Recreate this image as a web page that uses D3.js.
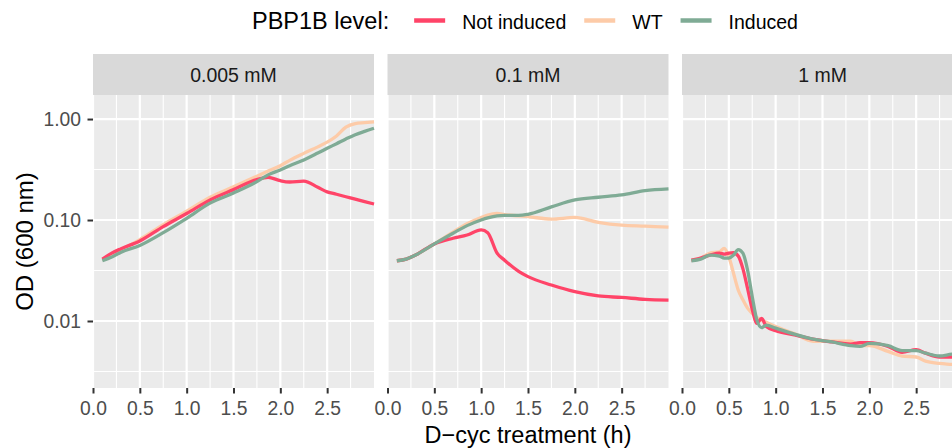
<!DOCTYPE html>
<html>
<head>
<meta charset="utf-8">
<script src="https://cdn.jsdelivr.net/npm/d3@7"></script>
<style>
  body { margin: 0; background: #fff; }
  text { font-family: "Liberation Sans", Arial, sans-serif; }
</style>
</head>
<body>
<script>
var width = 952,
    height = 448;

// facets, groups, colours
var concentrations = ["0.005 mM", "0.1 mM", "1 mM"];
var levels = ["Not induced", "WT", "Induced"];
var levelColors = ["#FF4468", "#FDCBA8", "#7FAB95"];
var drawOrder = [1, 0, 2];

// ticks
var xTicks = [0, 0.5, 1, 1.5, 2, 2.5];
var xMinor = [0.25, 0.75, 1.25, 1.75, 2.25, 2.75];
var yTicks = [1, 0.1, 0.01];
var yMinor = [0.316, 0.0316, 0.00316];

// 0.005 mM
var hours005 = [0.1, 0.2, 0.3, 0.5, 0.75, 1.0, 1.25, 1.5, 1.75, 1.87, 2.0, 2.1, 2.25, 2.4, 2.5, 2.6, 2.7, 2.8, 2.9, 3.0];
var od005NotInduced = [0.041, 0.047, 0.052, 0.062, 0.086, 0.116, 0.158, 0.200, 0.252, 0.265, 0.245, 0.238, 0.243, 0.211, 0.190, 0.180, 0.170, 0.161, 0.152, 0.144];
var od005WT = [0.040, 0.046, 0.051, 0.064, 0.090, 0.122, 0.168, 0.213, 0.272, 0.305, 0.345, 0.390, 0.457, 0.530, 0.590, 0.680, 0.830, 0.900, 0.920, 0.940];
var od005Induced = [0.0395, 0.043, 0.048, 0.056, 0.075, 0.104, 0.147, 0.185, 0.240, 0.280, 0.313, 0.345, 0.393, 0.460, 0.513, 0.570, 0.635, 0.700, 0.755, 0.810];

// 0.1 mM
var hours01 = [0.1, 0.2, 0.3, 0.5, 0.7, 0.85, 1.0, 1.07, 1.17, 1.25, 1.4, 1.5, 1.75, 2.0, 2.25, 2.5, 2.75, 3.0];
var od01NotInduced = [0.0395, 0.041, 0.045, 0.058, 0.066, 0.071, 0.080, 0.075, 0.047, 0.040, 0.031, 0.0275, 0.0227, 0.0195, 0.0177, 0.0171, 0.0164, 0.0161];
var od01WT = [0.0395, 0.041, 0.045, 0.058, 0.076, 0.092, 0.106, 0.112, 0.116, 0.113, 0.110, 0.108, 0.102, 0.106, 0.095, 0.089, 0.087, 0.085];
var od01Induced = [0.0395, 0.041, 0.045, 0.058, 0.074, 0.088, 0.100, 0.105, 0.110, 0.111, 0.111, 0.114, 0.135, 0.158, 0.168, 0.177, 0.195, 0.203];

// 1 mM
var hours1 = [0.1, 0.2, 0.3, 0.4, 0.45, 0.5, 0.55, 0.6, 0.65, 0.7, 0.75, 0.8, 0.85, 0.9, 1.0, 1.2, 1.4, 1.6, 1.8, 1.9, 2.0, 2.2, 2.35, 2.5, 2.6, 2.75, 2.9, 3.0];
var od1NotInduced = [0.040, 0.042, 0.045, 0.047, 0.046, 0.047, 0.0474, 0.044, 0.033, 0.021, 0.013, 0.0095, 0.0106, 0.0088, 0.0080, 0.0073, 0.0066, 0.0062, 0.0059, 0.0061, 0.0061, 0.0056, 0.0049, 0.0052, 0.0048, 0.0044, 0.0044, 0.0044];
var od1WT = [0.040, 0.042, 0.047, 0.0485, 0.0525, 0.0434, 0.0297, 0.0203, 0.0162, 0.0134, 0.0119, 0.0108, 0.0102, 0.0097, 0.0088, 0.0075, 0.0063, 0.0063, 0.0063, 0.0057, 0.0057, 0.0050, 0.0045, 0.0044, 0.0040, 0.0038, 0.0037, 0.0036];
var od1Induced = [0.0395, 0.041, 0.045, 0.044, 0.042, 0.042, 0.045, 0.051, 0.047, 0.032, 0.0174, 0.0102, 0.0086, 0.0091, 0.0085, 0.0074, 0.0066, 0.0062, 0.0057, 0.0056, 0.0060, 0.0057, 0.0051, 0.0051, 0.0048, 0.0045, 0.0047, 0.0047];

var panels = [
  {hours: hours005, series: [od005NotInduced, od005WT, od005Induced]},
  {hours: hours01, series: [od01NotInduced, od01WT, od01Induced]},
  {hours: hours1, series: [od1NotInduced, od1WT, od1Induced]}
];

// layout (window.top is read-only, so not "top")
var panelLeft = 93, panelTop = 95,
    panelW = 281, panelH = 293,
    gap = 13.5, stripH = 41;

var svg = d3.select("body").append("svg")
    .attr("width", width)
    .attr("height", height);

var x = d3.scaleLinear().domain([0, 3]).range([0, panelW]);
var y = d3.scaleLog().domain([0.00217, 1.73]).range([panelH, 0]);

var line = d3.line()
    .x(function(d) { return x(d[0]); })
    .y(function(d) { return y(d[1]); })
    .curve(d3.curveMonotoneX);

panels.forEach(function(p, i) {
  var g = svg.append("g")
      .attr("transform", "translate(" + (panelLeft + i * (panelW + gap)) + "," + panelTop + ")");

  g.append("rect")
      .attr("width", panelW)
      .attr("height", panelH)
      .attr("fill", "#EBEBEB");

  // minor grid
  g.selectAll(".xminor").data(xMinor).enter().append("line")
      .attr("x1", function(d) { return x(d); }).attr("x2", function(d) { return x(d); })
      .attr("y1", 0).attr("y2", panelH)
      .attr("stroke", "#fff").attr("stroke-width", 1.1);
  g.selectAll(".yminor").data(yMinor).enter().append("line")
      .attr("x1", 0).attr("x2", panelW)
      .attr("y1", function(d) { return y(d); }).attr("y2", function(d) { return y(d); })
      .attr("stroke", "#fff").attr("stroke-width", 1.1);

  // major grid
  g.selectAll(".xmajor").data(xTicks).enter().append("line")
      .attr("x1", function(d) { return x(d); }).attr("x2", function(d) { return x(d); })
      .attr("y1", 0).attr("y2", panelH)
      .attr("stroke", "#fff").attr("stroke-width", 2.2);
  g.selectAll(".ymajor").data(yTicks).enter().append("line")
      .attr("x1", 0).attr("x2", panelW)
      .attr("y1", function(d) { return y(d); }).attr("y2", function(d) { return y(d); })
      .attr("stroke", "#fff").attr("stroke-width", 2.2);

  // data lines
  drawOrder.forEach(function(k) {
    var pts = p.hours.map(function(h, j) { return [h, p.series[k][j]]; });
    g.append("path")
        .attr("d", line(pts))
        .attr("fill", "none")
        .attr("stroke", levelColors[k])
        .attr("stroke-width", 3.3)
        .attr("stroke-linejoin", "round")
        .attr("stroke-linecap", "butt");
  });

  // strip
  g.append("rect")
      .attr("y", -stripH)
      .attr("width", panelW)
      .attr("height", stripH)
      .attr("fill", "#D9D9D9");
  g.append("text")
      .attr("x", panelW / 2)
      .attr("y", -stripH / 2)
      .attr("dy", "0.36em")
      .attr("text-anchor", "middle")
      .attr("fill", "#1A1A1A")
      .style("font-size", "19.5px")
      .text(concentrations[i]);

  // x axis
  var xa = g.append("g")
      .attr("transform", "translate(0," + panelH + ")")
      .call(d3.axisBottom(x).tickValues(xTicks).tickFormat(d3.format(".1f")).tickSize(5.5).tickPadding(8));
  xa.select(".domain").remove();
  xa.selectAll("line").attr("stroke", "#333333").attr("stroke-width", 2);
  xa.selectAll("text").attr("fill", "#4D4D4D").style("font-size", "19.3px")
      .style("font-family", "Liberation Sans, Arial, sans-serif");

  if (i === 0) {
    var ya = g.append("g")
        .call(d3.axisLeft(y).tickValues(yTicks).tickFormat(d3.format(".2f")).tickSize(5.5).tickPadding(6.5));
    ya.select(".domain").remove();
    ya.selectAll("line").attr("stroke", "#333333").attr("stroke-width", 2);
    ya.selectAll("text").attr("fill", "#4D4D4D").style("font-size", "19.3px")
        .style("font-family", "Liberation Sans, Arial, sans-serif");
  }
});

// axis titles
svg.append("text")
    .attr("x", panelLeft + (3 * panelW + 2 * gap) / 2)
    .attr("y", 443)
    .attr("text-anchor", "middle")
    .attr("fill", "#000")
    .style("font-size", "23.5px")
    .text("D\u2212cyc treatment (h)");

svg.append("text")
    .attr("transform", "translate(33," + (panelTop + panelH / 2) + ") rotate(-90)")
    .attr("text-anchor", "middle")
    .attr("fill", "#000")
    .style("font-size", "24px")
    .text("OD (600 nm)");

// legend
var legend = svg.append("g");
var title = legend.append("text")
    .attr("x", 252)
    .attr("y", 29)
    .attr("fill", "#000")
    .style("font-size", "23.5px")
    .text("PBP1B level:");

var cursor = 252 + title.node().getComputedTextLength() + 25;
levels.forEach(function(name, k) {
  legend.append("line")
      .attr("x1", cursor).attr("x2", cursor + 31)
      .attr("y1", 20.5).attr("y2", 20.5)
      .attr("stroke", levelColors[k])
      .attr("stroke-width", 4.5);
  var t = legend.append("text")
      .attr("x", cursor + 48)
      .attr("y", 28.5)
      .attr("fill", "#000")
      .style("font-size", "19.5px")
      .text(name);
  cursor = cursor + 48 + t.node().getComputedTextLength() + 18;
});
</script>
</body>
</html>
